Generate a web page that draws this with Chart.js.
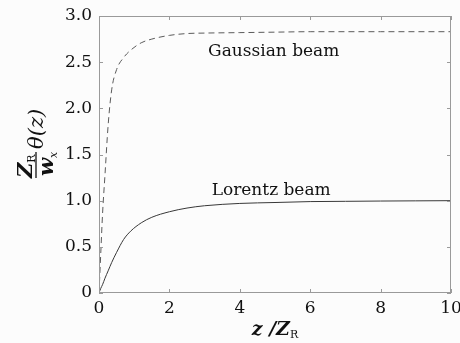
<!DOCTYPE html>
<html>
<head>
<meta charset="utf-8">
<script src="https://cdn.jsdelivr.net/npm/chart.js@4/dist/chart.umd.min.js"></script>
<style>
  html, body { margin: 0; padding: 0; background: #fcfcfc; }
  #wrap { width: 460px; height: 343px; }
</style>
</head>
<body>
<div id="wrap"><canvas id="beamChart"></canvas></div>
<script>
// z / Z_R sample positions
const zValues = [0, 0.05, 0.1, 0.17, 0.26, 0.36, 0.5, 0.7, 0.9, 1.2, 1.5, 2.0, 2.5, 3.0, 4, 5, 6, 7, 8, 9, 10];
// Z_R/w_x * theta(z)
const gaussianValues = [0, 0.43, 0.85, 1.28, 1.82, 2.2, 2.42, 2.55, 2.63, 2.71, 2.75, 2.79, 2.81, 2.815, 2.82, 2.825, 2.83, 2.83, 2.83, 2.83, 2.83];
const lorentzValues = [0, 0.05, 0.09, 0.16, 0.24, 0.33, 0.44, 0.58, 0.67, 0.76, 0.82, 0.88, 0.92, 0.945, 0.97, 0.98, 0.99, 0.993, 0.996, 0.998, 1.0];
const xTicks = [0, 2, 4, 6, 8, 10];
const yTicks = [0, 0.5, 1.0, 1.5, 2.0, 2.5, 3.0];
// curve labels, placed in data coordinates
const curveLabels = [
  { text: 'Gaussian beam', z: 3.1, v: 2.57 },
  { text: 'Lorentz beam', z: 3.2, v: 1.06 }
];

const SERIF = '"DejaVu Serif", serif';
const frameColor = '#9a9a9a';

const framePlugin = {
  id: 'frameAndTicks',
  afterDatasetsDraw(chart) {
    const { ctx, chartArea: a, scales } = chart;
    const xs = scales.x, ys = scales.y;
    ctx.save();
    ctx.strokeStyle = frameColor;
    ctx.lineWidth = 1;
    ctx.strokeRect(a.left + 0.5, a.top + 0.5, a.right - a.left - 1, a.bottom - a.top - 1);
    const len = 4;
    ctx.beginPath();
    xTicks.forEach(t => {
      const px = Math.round(xs.getPixelForValue(t)) + 0.5;
      ctx.moveTo(px, a.bottom); ctx.lineTo(px, a.bottom - len);
      ctx.moveTo(px, a.top); ctx.lineTo(px, a.top + len);
    });
    yTicks.forEach(t => {
      const py = Math.round(ys.getPixelForValue(t)) + 0.5;
      ctx.moveTo(a.left, py); ctx.lineTo(a.left + len, py);
      ctx.moveTo(a.right, py); ctx.lineTo(a.right - len, py);
    });
    ctx.stroke();

    // curve labels
    ctx.fillStyle = '#111';
    ctx.font = '17px ' + SERIF;
    ctx.textBaseline = 'alphabetic';
    ctx.textAlign = 'left';
    curveLabels.forEach(l => {
      ctx.fillText(l.text, xs.getPixelForValue(l.z), ys.getPixelForValue(l.v));
    });

    // x axis title: z /Z_R
    const xbig = 'italic bold 19px ' + SERIF;
    const sub = '11px ' + SERIF;
    ctx.font = sub;
    const wR = ctx.measureText('R').width;
    ctx.font = xbig;
    const p1 = 'z /Z';
    const w1 = ctx.measureText(p1).width;
    let x0 = (a.left + a.right) / 2 - (w1 + wR) / 2;
    const by = 335;
    ctx.fillText(p1, x0, by);
    ctx.font = sub;
    ctx.fillText('R', x0 + w1, by + 3);

    // y axis title: Z_R / w_x  theta(z), rotated
    const big = 'italic bold 21px ' + SERIF;
    ctx.translate(36, 178);
    ctx.rotate(-Math.PI / 2);
    ctx.font = big;
    const wZ = ctx.measureText('Z').width;
    ctx.fillText('Z', 0, -4);
    ctx.font = sub;
    ctx.fillText('R', wZ, -1);
    ctx.font = big;
    const ww = ctx.measureText('w').width;
    ctx.fillText('w', 2, 17);
    ctx.font = 'italic 11px ' + SERIF;
    ctx.fillText('x', 2 + ww, 21);
    const barLen = Math.max(wZ + wR, ww + 7) + 1;
    ctx.strokeStyle = '#111';
    ctx.lineWidth = 1.3;
    ctx.beginPath();
    ctx.moveTo(0, 0); ctx.lineTo(barLen, 0);
    ctx.stroke();
    ctx.font = 'italic 21px ' + SERIF;
    ctx.fillText('\u03B8(z)', barLen + 3, 7);
    ctx.restore();
  }
};

const ctx = document.getElementById('beamChart').getContext('2d');
const beamChart = new Chart(ctx, {
  type: 'line',
  data: {
    datasets: [
      {
        label: 'Gaussian beam',
        data: zValues.map((z, i) => ({ x: z, y: gaussianValues[i] })),
        borderColor: '#5a5a5a',
        borderWidth: 1,
        borderDash: [6, 4],
        pointRadius: 0,
        cubicInterpolationMode: 'monotone',
        fill: false
      },
      {
        label: 'Lorentz beam',
        data: zValues.map((z, i) => ({ x: z, y: lorentzValues[i] })),
        borderColor: '#383838',
        borderWidth: 1,
        pointRadius: 0,
        cubicInterpolationMode: 'monotone',
        fill: false
      }
    ]
  },
  options: {
    responsive: true,
    maintainAspectRatio: false,
    animation: false,
    layout: { padding: { left: 0, right: 9, top: 16, bottom: 0 } },
    plugins: {
      legend: { display: false },
      tooltip: { enabled: false }
    },
    scales: {
      x: {
        type: 'linear',
        min: 0,
        max: 10,
        afterFit: s => { s.height = 50; s.paddingLeft = 0; s.paddingRight = 0; },
        afterBuildTicks: s => { s.ticks = xTicks.map(v => ({ value: v })); },
        grid: { display: false, drawTicks: false },
        border: { display: false },
        ticks: {
          padding: 5,
          color: '#111',
          font: { family: SERIF, size: 17 }
        }
      },
      y: {
        type: 'linear',
        min: 0,
        max: 3,
        afterFit: s => { s.width = 99; s.paddingTop = 0; s.paddingBottom = 0; },
        afterBuildTicks: s => { s.ticks = yTicks.map(v => ({ value: v })); },
        grid: { display: false, drawTicks: false },
        border: { display: false },
        ticks: {
          padding: 7,
          color: '#111',
          font: { family: SERIF, size: 17 },
          callback: v => v === 0 ? '0' : v.toFixed(1)
        }
      }
    }
  },
  plugins: [framePlugin]
});
</script>
</body>
</html>
